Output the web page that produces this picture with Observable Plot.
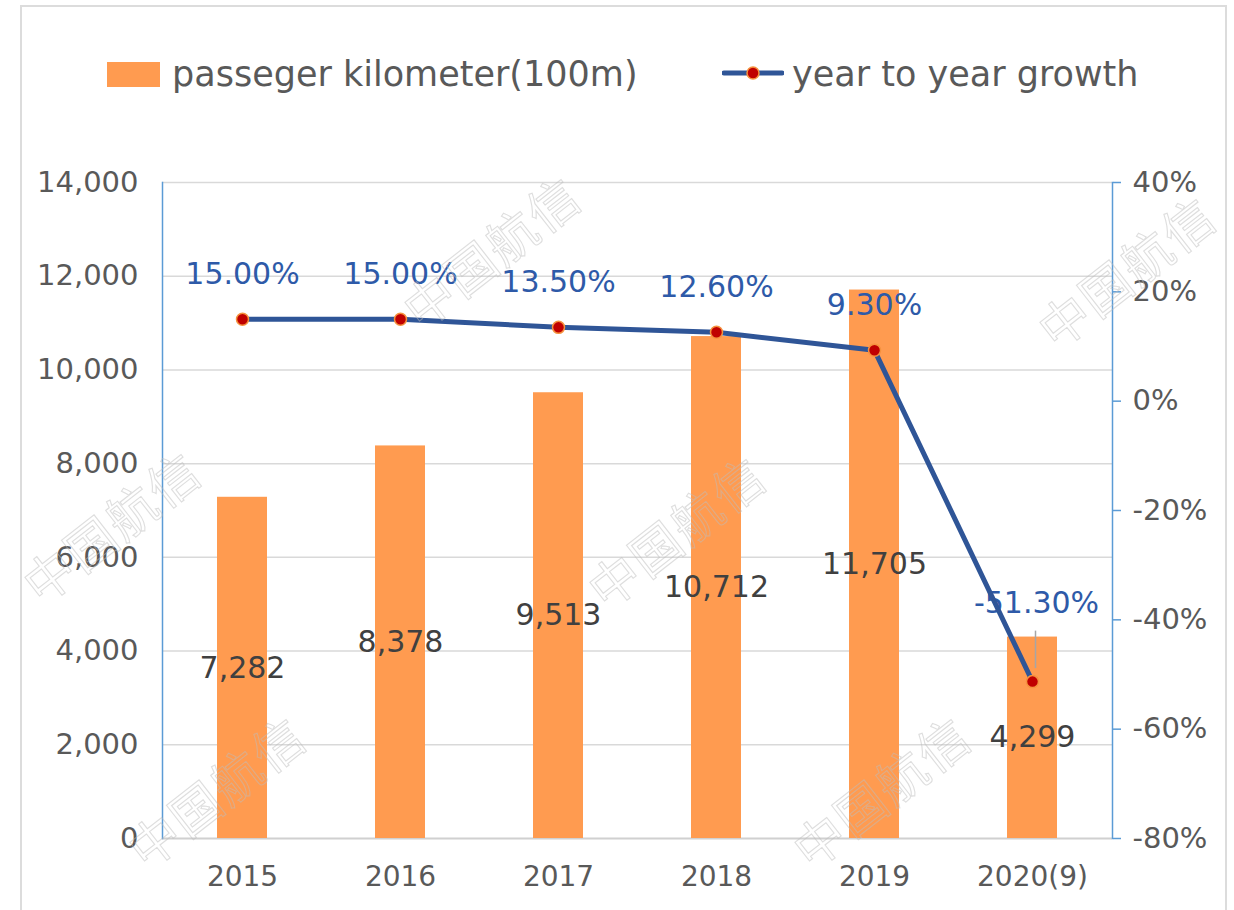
<!DOCTYPE html>
<html>
<head>
<meta charset="utf-8">
<script src="https://cdn.jsdelivr.net/npm/d3@7"></script>
<script src="https://cdn.jsdelivr.net/npm/@observablehq/plot@0.6"></script>
<style>
  html, body { margin: 0; padding: 0; background: #fff; }
  #wrap { position: relative; width: 1234px; height: 910px; overflow: hidden; background: #fff; font-family: "DejaVu Sans", sans-serif; }
  #border { position: absolute; left: 20px; top: 5px; width: 1207px; height: 940px; border: 2px solid #dcdcdc; box-sizing: border-box; }
  #legend { position: relative; height: 140px; }
  .lg { position: absolute; }
  .lgtext { position: absolute; font-size: 35px; color: #595959; line-height: 1; white-space: nowrap; }
  #chart { position: relative; }
  .wm { position: absolute; font-family: "Noto Sans CJK SC", sans-serif; font-size: 50px; color: transparent;
        -webkit-text-stroke: 1.1px rgba(190,190,190,0.5); transform: translate(-50%,-50%) rotate(-38deg);
        white-space: nowrap; pointer-events: none; letter-spacing: 2px; }
</style>
</head>
<body>
<div id="wrap">
  <div id="border"></div>
  <div id="legend">
    <div class="lg" style="left:107px; top:62px; width:53px; height:25px; background:#FF9B50;"></div>
    <div class="lgtext" style="left:172px; top:57px;">passeger kilometer(100m)</div>
    <svg class="lg" style="left:722px; top:60px;" width="62" height="26">
      <line x1="2" y1="13" x2="60" y2="13" stroke="#2F5597" stroke-width="5" stroke-linecap="round"></line>
      <circle cx="31" cy="13" r="6" fill="#C00000" stroke="#F5923E" stroke-width="1.5"></circle>
    </svg>
    <div class="lgtext" style="left:792px; top:57px;">year to year growth</div>
  </div>
  <div id="chart"></div>
</div>
<script>
const years = ["2015", "2016", "2017", "2018", "2019", "2020(9)"];
const passengerKm = [7282, 8378, 9513, 10712, 11705, 4299];
const growth = [15.0, 15.0, 13.5, 12.6, 9.3, -51.3];
const growthLabels = ["15.00%", "15.00%", "13.50%", "12.60%", "9.30%", "-51.30%"];
const leftTicks = [0, 2000, 4000, 6000, 8000, 10000, 12000, 14000];
const rightTicks = [-80, -60, -40, -20, 0, 20, 40];

// secondary axis (percent) mapped onto the primary axis units
const g2y = d3.scaleLinear().domain([-80, 40]).range([0, 14000]);

const data = years.map((year, i) => ({
  year, km: passengerKm[i], g: growth[i], gy: g2y(growth[i]), glabel: growthLabels[i], last: i === years.length - 1
}));
const fmt = d3.format(",");

const chart = Plot.plot({
  width: 1234,
  height: 770,
  marginLeft: 162,
  marginRight: 122,
  marginTop: 42,
  marginBottom: 72,
  style: { fontFamily: "DejaVu Sans, sans-serif", background: "transparent", overflow: "visible" },
  x: { domain: years, paddingInner: 0.684, paddingOuter: 0.342, label: null },
  y: { domain: [0, 14000], label: null },
  marks: [
    Plot.gridY(leftTicks.filter(d => d > 0), { stroke: "#D9D9D9", strokeOpacity: 1, strokeWidth: 1.5 }),
    Plot.ruleY([0], { stroke: "#D0D0D0", strokeWidth: 2 }),
    Plot.barY(data, { x: "year", y: "km", fill: "#FF9B50" }),
    Plot.frame({ anchor: "left", stroke: "#5B9BD5", strokeWidth: 1.5 }),
    Plot.frame({ anchor: "right", stroke: "#5B9BD5", strokeWidth: 1.5 }),
    Plot.axisY(leftTicks, { anchor: "left", tickSize: 0, tickPadding: 24, tickFormat: fmt, fontSize: 29, fill: "#595959", label: null }),
    Plot.axisY(rightTicks.map(g2y), { anchor: "right", tickSize: 8, tickPadding: 12, stroke: "#5B9BD5", strokeWidth: 1.5, tickFormat: d => Math.round(g2y.invert(d)) + "%", fontSize: 29, fill: "#595959", label: null }),
    Plot.axisX({ tickSize: 0, tickPadding: 28, fontSize: 28, fill: "#595959", label: null }),
    Plot.text(data, { x: "year", y: d => d.km / 2, text: d => fmt(d.km), fill: "#404040", fontSize: 30 }),
    Plot.text(data.filter(d => !d.last), { x: "year", y: "gy", text: "glabel", dy: -45, fill: "#2E5AA8", fontSize: 30 }),
    Plot.text(data.filter(d => d.last), { x: "year", y: "gy", text: "glabel", dy: -78, dx: 4, fill: "#2E5AA8", fontSize: 30 }),
    Plot.ruleX(data.filter(d => d.last), { x: "year", y1: "gy", y2: d => d.gy + 800, dy: -13, dx: 3, stroke: "#A6A6A6", strokeWidth: 1.5 }),
    Plot.line(data, { x: "year", y: "gy", stroke: "#2F5597", strokeWidth: 5 }),
    Plot.dot(data, { x: "year", y: "gy", r: 6, fill: "#C00000", stroke: "#F5923E", strokeWidth: 1.5 })
  ]
});
document.getElementById("chart").appendChild(chart);

// faint watermarks (kept fully inside the picture)
const wmPos = [[490, 250], [1125, 270], [110, 525], [675, 530], [215, 790], [880, 790]];
const wrap = document.getElementById("wrap");
wmPos.forEach(([x, y]) => {
  const d = document.createElement("div");
  d.className = "wm";
  d.style.left = x + "px";
  d.style.top = y + "px";
  d.textContent = "中国航信";
  wrap.appendChild(d);
});
</script>
</body>
</html>
